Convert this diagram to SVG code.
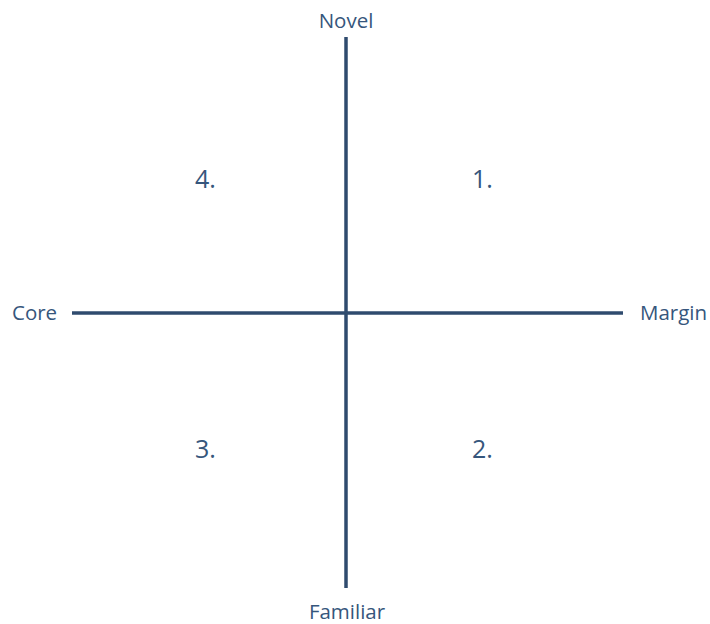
<svg xmlns="http://www.w3.org/2000/svg" width="710" height="624" viewBox="0 0 710 624">
<style>
.lbl{font-family:"Open Sans","Liberation Sans",sans-serif;font-size:20.5px;fill:#36567c}
.num{font-family:"Open Sans","Liberation Sans",sans-serif;font-size:25px;fill:#36567c}
.ax{stroke:#2f4b6e;stroke-width:3.5;fill:none}
</style>
<rect width="710" height="624" fill="#ffffff"/>
<g id="connectors">
<line class="ax" x1="346" y1="37" x2="346" y2="588"/>
<line class="ax" x1="72" y1="313" x2="623" y2="313"/>
</g>
<g id="novel"><text class="lbl" x="346" y="28" text-anchor="middle">Novel</text></g>
<g id="familiar"><text class="lbl" x="347" y="619" text-anchor="middle">Familiar</text></g>
<g id="core"><text class="lbl" x="12" y="320">Core</text></g>
<g id="margin"><text class="lbl" x="640" y="320">Margin</text></g>
<g id="q1"><text class="num" x="472" y="188">1.</text></g>
<g id="q2"><text class="num" x="472" y="458">2.</text></g>
<g id="q3"><text class="num" x="195" y="458">3.</text></g>
<g id="q4"><text class="num" x="195" y="188">4.</text></g>
</svg>
